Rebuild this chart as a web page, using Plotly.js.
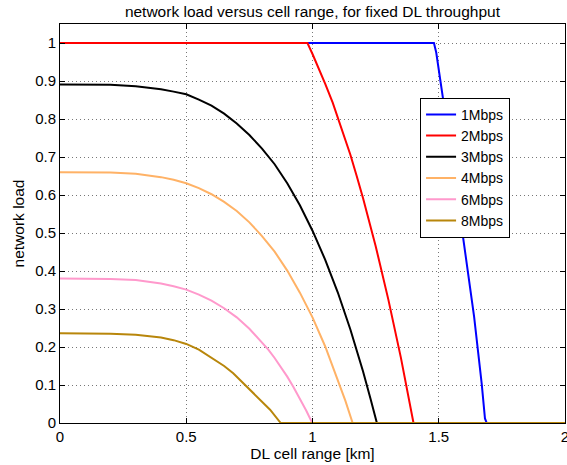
<!DOCTYPE html>
<html>
<head>
<meta charset="utf-8">
<script src="https://cdn.plot.ly/plotly-3.0.1.min.js"></script>
<style>html,body{margin:0;padding:0;background:#fff;}#chart{width:567px;height:465px;}</style>
</head>
<body>
<div id="chart"></div>
<script>
// Series names
const seriesNames = ["1Mbps", "2Mbps", "3Mbps", "4Mbps", "6Mbps", "8Mbps"];

// DL cell range [km] and network load
const x1Mbps = [0, 1.481, 1.49, 1.50, 1.52, 1.55, 1.58, 1.61, 1.64, 1.67, 1.683, 1.69, 2];
const y1Mbps = [1, 1, 0.975, 0.926, 0.84, 0.71, 0.57, 0.425, 0.28, 0.104, 0.012, 0, 0];

const x2Mbps = [0, 0.98, 1.00, 1.02, 1.05, 1.08, 1.10, 1.125, 1.15, 1.175, 1.20, 1.25, 1.30, 1.35, 1.38, 1.40, 2];
const y2Mbps = [1, 1, 0.971, 0.941, 0.893, 0.843, 0.805, 0.757, 0.706, 0.65, 0.592, 0.466, 0.326, 0.172, 0.071, 0, 0];

const x3Mbps = [0, 0.2, 0.3, 0.4, 0.45, 0.5, 0.55, 0.6, 0.65, 0.7, 0.75, 0.8, 0.85, 0.9, 0.95, 1.0, 1.05, 1.1, 1.15, 1.2, 1.23, 1.255, 2];
const y3Mbps = [0.891, 0.890, 0.886, 0.878, 0.872, 0.865, 0.851, 0.835, 0.814, 0.788, 0.758, 0.722, 0.681, 0.631, 0.573, 0.506, 0.43, 0.344, 0.246, 0.136, 0.063, 0, 0];

const x4Mbps = [0, 0.2, 0.3, 0.4, 0.45, 0.5, 0.55, 0.6, 0.65, 0.7, 0.75, 0.8, 0.85, 0.9, 0.95, 1.0, 1.05, 1.1, 1.13, 1.159, 2];
const y4Mbps = [0.66, 0.659, 0.656, 0.647, 0.640, 0.631, 0.618, 0.602, 0.582, 0.558, 0.528, 0.492, 0.451, 0.401, 0.343, 0.278, 0.202, 0.116, 0.059, 0, 0];

const x6Mbps = [0, 0.2, 0.3, 0.4, 0.45, 0.5, 0.55, 0.6, 0.65, 0.7, 0.75, 0.8, 0.825, 0.85, 0.875, 0.9, 0.925, 0.95, 0.975, 0.999, 2];
const y6Mbps = [0.38, 0.379, 0.376, 0.367, 0.360, 0.351, 0.338, 0.322, 0.302, 0.278, 0.248, 0.213, 0.193, 0.171, 0.147, 0.122, 0.094, 0.065, 0.033, 0, 0];

const x8Mbps = [0, 0.2, 0.3, 0.4, 0.45, 0.5, 0.55, 0.594, 0.65, 0.686, 0.73, 0.766, 0.8, 0.832, 0.874, 2];
const y8Mbps = [0.236, 0.235, 0.232, 0.225, 0.218, 0.208, 0.193, 0.175, 0.15, 0.131, 0.102, 0.079, 0.056, 0.035, 0, 0];

const seriesX = [x1Mbps, x2Mbps, x3Mbps, x4Mbps, x6Mbps, x8Mbps];
const seriesY = [y1Mbps, y2Mbps, y3Mbps, y4Mbps, y6Mbps, y8Mbps];
const seriesColors = ["#0000ff", "#ff0000", "#000000", "#ffb266", "#ff99cc", "#b8860b"];

const xTicks = [0, 0.5, 1, 1.5, 2];
const xTickText = ["0", "0.5", "1", "1.5", "2"];
const yTicks = [0, 0.1, 0.2, 0.3, 0.4, 0.5, 0.6, 0.7, 0.8, 0.9, 1];
const yTickText = ["0", "0.1", "0.2", "0.3", "0.4", "0.5", "0.6", "0.7", "0.8", "0.9", "1"];

const traces = seriesNames.map((name, i) => ({
  x: seriesX[i],
  y: seriesY[i],
  name: name,
  type: "scatter",
  mode: "lines",
  line: {color: seriesColors[i], width: 2},
  cliponaxis: false
}));

const font = {family: "Liberation Sans, Arial, sans-serif", size: 15, color: "#000"};
const titleFont = {family: "Liberation Sans, Arial, sans-serif", size: 15.5, color: "#000"};
const legendFont = {family: "Liberation Sans, Arial, sans-serif", size: 14, color: "#000"};

const axisCommon = {
  showline: true, linecolor: "#000", linewidth: 1, mirror: "ticks",
  ticks: "inside", ticklen: 5, tickcolor: "#000", tickwidth: 1,
  showgrid: true, gridcolor: "#777", griddash: "1px,3px", gridwidth: 1,
  zeroline: false, tickfont: font, ticklabeloverflow: "allow"
};

const layout = {
  width: 567, height: 465,
  margin: {l: 60, r: 2, t: 24, b: 42},
  paper_bgcolor: "#fff", plot_bgcolor: "#fff",
  font: font,
  title: {text: "network load versus cell range, for fixed DL throughput", font: titleFont, x: 0.551, xanchor: "center", y: 0.975, yanchor: "middle"},
  xaxis: Object.assign({}, axisCommon, {
    range: [0, 2], tickvals: xTicks, ticktext: xTickText,
    title: {text: "DL cell range [km]", font: titleFont, standoff: 2}
  }),
  yaxis: Object.assign({}, axisCommon, {
    range: [0, 1.05], tickvals: yTicks, ticktext: yTickText,
    title: {text: "network load", font: titleFont, standoff: 6}
  }),
  showlegend: true,
  legend: {
    x: 0.713, y: 0.815, xanchor: "left", yanchor: "top",
    bgcolor: "#fff", bordercolor: "#000", borderwidth: 1,
    font: legendFont, tracegroupgap: 0, itemwidth: 30
  }
};

Plotly.newPlot("chart", traces, layout, {displayModeBar: false, staticPlot: true});
</script>
</body>
</html>
